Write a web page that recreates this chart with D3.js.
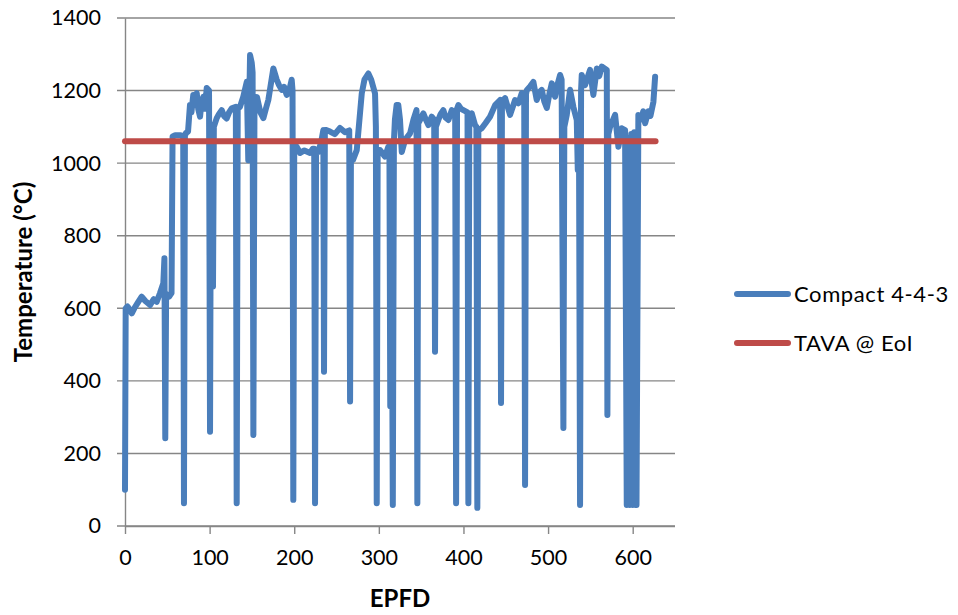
<!DOCTYPE html>
<html>
<head>
<meta charset="utf-8">
<script src="https://cdn.jsdelivr.net/npm/d3@7"></script>
<style>
  html, body { margin: 0; padding: 0; background: #fff; }
  svg { display: block; }
  text { font-family: Lato, "Open Sans", sans-serif; fill: #000; }
</style>
</head>
<body>
<svg id="chart" width="958" height="615"></svg>
<script>
// EPFD (days) of each sample of the Compact 4-4-3 temperature history
const epfd = [
  0, 0.8, 3, 6, 8, 11, 15, 19.7, 24, 29.6, 34, 37.5, 41.4, 45.3, 46.6, 47.6, 48.6, 52, 55,
  56.2, 59, 65, 68.8, 69.7, 70.8, 72.1, 74.5, 76.8, 78.5, 80.7, 82.5, 84.8, 86.5, 88.7, 90.5,
  92.6, 94.5, 96.6, 99.3, 100.5, 101.6, 103, 104, 105, 108.4, 111, 114.3, 117, 120.2, 123,
  126.1, 131, 132, 133.2, 135.9, 139.8, 143.9, 145.7, 147.8, 149.8, 150.8, 151.7, 153, 156,
  160, 163.5, 166.5, 169.4, 175.3, 179.3, 182, 185.2, 188, 191.1, 194, 197, 198, 198.9, 200,
  203, 206.9, 212, 218.7, 222, 223.6, 224.6, 225.8, 228.5, 232, 234.4, 235.2, 236.2, 238.4,
  242.3, 248, 254.1, 260, 265, 266, 267, 269.5, 273.9, 279.8, 283, 287.6, 291, 295.5, 296.5,
  297.5, 298.6, 301.4, 307.3, 311.2, 312.5, 313.5, 314.8, 316.5, 317.8, 319, 321, 323, 325,
  327.1, 331, 336.9, 340.8, 344.5, 345.5, 346.6, 348.7, 352.6, 355.5, 358.5, 362.5, 365.4,
  366.4, 367.4, 370.3, 373, 376.2, 379, 382.2, 386.2, 390.2, 391.3, 392.4, 394, 397, 399.9,
  404.8, 405.8, 406.9, 409.8, 413.7, 415.3, 416.4, 417.6, 421.6, 426, 431.4, 437.4, 443.3,
  444.4, 445.5, 449.2, 455.1, 461, 465, 468.9, 471.8, 472.8, 473.9, 474.8, 478.7, 482.6,
  486.6, 489.5, 492.5, 495.5, 498.5, 501.5, 504.4, 508.3, 511, 514.2, 516, 518.1, 519.2,
  522.1, 526, 529.9, 533.9, 535.1, 536.5, 537.8, 539, 539.8, 543.7, 549.6, 553.5, 557.6,
  560.5, 563.5, 569.4, 570.1, 571.2, 573.3, 579.2, 583.1, 587.1, 591, 593, 594.8, 596.5,
  598.3, 600, 601.8, 603.2, 604.5, 606.7, 609.5, 612.6, 614.7, 618.6, 621, 624.5, 626.5
];

// Temperature (°C) at each sample
const temperature = [
  100, 600, 605, 595, 586, 600, 615, 632, 620, 609, 625, 618, 642, 669, 738, 242, 640, 632, 642,
  1073, 1077, 1077, 1075, 63, 1075, 1083, 1087, 1160, 1140, 1188, 1160, 1193, 1150, 1128, 1170,
  1183, 1150, 1207, 1200, 260, 1088, 1080, 660, 1100, 1124, 1135, 1146, 1130, 1123, 1140,
  1151, 1155, 63, 1150, 1155, 1183, 1224, 1008, 1298, 1276, 1250, 251, 1150, 1182,
  1140, 1124, 1150, 1174, 1261, 1230, 1215, 1202, 1210, 1188, 1200, 1230, 1200, 72, 1040,
  1045, 1028, 1035, 1028, 1040, 1040, 63, 1031, 1031, 1060, 1091, 425, 1091, 1091,
  1087, 1080, 1097, 1085, 1090, 343, 1020, 1009, 1036, 1192, 1230, 1247, 1230, 1192, 1100,
  63, 1036, 1036, 1018, 1045, 1045, 330, 1040, 58, 1060, 1120, 1160, 1160, 1120,
  1031, 1064, 1082, 1119, 1146, 63, 1110, 1119, 1137, 1120, 1105, 1128, 1120,
  480, 1100, 1119, 1135, 1146, 1125, 1119, 1146, 1140, 63, 1150, 1160, 1150, 1146,
  1140, 63, 1130, 1137, 1105, 1100, 50, 1090, 1096, 1110, 1128, 1160, 1174,
  339, 1170, 1179, 1133, 1174, 1165, 1193, 1180, 113, 1190, 1201, 1211, 1224,
  1174, 1195, 1202, 1170, 1152, 1190, 1220, 1183, 1215, 1243, 1230, 270, 1100,
  1133, 1202, 1155, 1119, 981, 1100, 58, 1200, 1243, 1215, 1257, 1188, 1261,
  1240, 1266, 1257, 306, 1080, 1100, 1133, 1045, 1096, 1091, 58, 1070, 58,
  1080, 58, 1085, 58, 58, 1133, 1120, 1143, 1110, 1143, 1130, 1169, 1238
];

// TAVA @ EoI reference level
const tavaLevel = 1060;
const tavaSpan = [0, 627];

const xTicks = [0, 100, 200, 300, 400, 500, 600];
const yTicks = [0, 200, 400, 600, 800, 1000, 1200, 1400];
const seriesNames = ["Compact 4-4-3", "TAVA @ EoI"];
const seriesColors = ["#4A7EBB", "#BE4B48"];

const svg = d3.select("#chart");
const plot = { left: 125, right: 675, top: 18, bottom: 526 };
const gridColor = "#868686";

const x = d3.scaleLinear().domain([0, 650]).range([plot.left, plot.right]);
const y = d3.scaleLinear().domain([0, 1400]).range([plot.bottom, plot.top]);

// horizontal gridlines (extend left through the tick marks)
svg.append("g").selectAll("line").data(yTicks).join("line")
  .attr("x1", plot.left - 8).attr("x2", plot.right)
  .attr("y1", d => y(d)).attr("y2", d => y(d))
  .attr("stroke", gridColor).attr("stroke-width", 1.4);

// y axis
const yAxis = svg.append("g").attr("transform", `translate(${plot.left},0)`)
  .call(d3.axisLeft(y).tickValues(yTicks).tickSize(0).tickPadding(24).tickFormat(d3.format("d")));
yAxis.select(".domain").attr("stroke", gridColor).attr("stroke-width", 1.4);
yAxis.selectAll("text").attr("font-size", 21.5).attr("font-family", "Lato");

// x axis
const xAxis = svg.append("g").attr("transform", `translate(0,${plot.bottom})`)
  .call(d3.axisBottom(x).tickValues(xTicks).tickSize(8).tickSizeOuter(0).tickPadding(16).tickFormat(d3.format("d")));
xAxis.select(".domain").attr("stroke", gridColor).attr("stroke-width", 1.4)
  .attr("d", `M${plot.left},0.5H${plot.right}`);
xAxis.selectAll(".tick line").attr("stroke", gridColor).attr("stroke-width", 1.4);
xAxis.selectAll("text").attr("font-size", 21.5).attr("font-family", "Lato");

// axis titles
svg.append("text")
  .attr("x", 400).attr("y", 607)
  .attr("text-anchor", "middle").attr("font-size", 24).attr("font-weight", "bold")
  .text("EPFD");
svg.append("text")
  .attr("transform", `translate(32,${(plot.top + plot.bottom) / 2}) rotate(-90)`)
  .attr("text-anchor", "middle").attr("font-size", 24).attr("font-weight", "bold")
  .text("Temperature (°C)");

// temperature history
const points = epfd.map((d, i) => [d, temperature[i]]);
svg.append("path")
  .datum(points)
  .attr("fill", "none")
  .attr("stroke", seriesColors[0])
  .attr("stroke-width", 6)
  .attr("stroke-linejoin", "round")
  .attr("stroke-linecap", "round")
  .attr("d", d3.line().x(d => x(d[0])).y(d => y(d[1])));

// TAVA reference line
svg.append("path")
  .datum(tavaSpan.map(d => [d, tavaLevel]))
  .attr("fill", "none")
  .attr("stroke", seriesColors[1])
  .attr("stroke-width", 6)
  .attr("stroke-linecap", "round")
  .attr("d", d3.line().x(d => x(d[0])).y(d => y(d[1])));

// legend
const legend = svg.append("g");
seriesNames.forEach((name, i) => {
  const ly = 294 + i * 49;
  legend.append("line")
    .attr("x1", 737).attr("x2", 788).attr("y1", ly).attr("y2", ly)
    .attr("stroke", seriesColors[i]).attr("stroke-width", 6).attr("stroke-linecap", "round");
  legend.append("text")
    .attr("x", 794).attr("y", ly).attr("dy", "0.35em")
    .attr("font-size", 22).attr("letter-spacing", 0.6)
    .text(name);
});
</script>
</body>
</html>
